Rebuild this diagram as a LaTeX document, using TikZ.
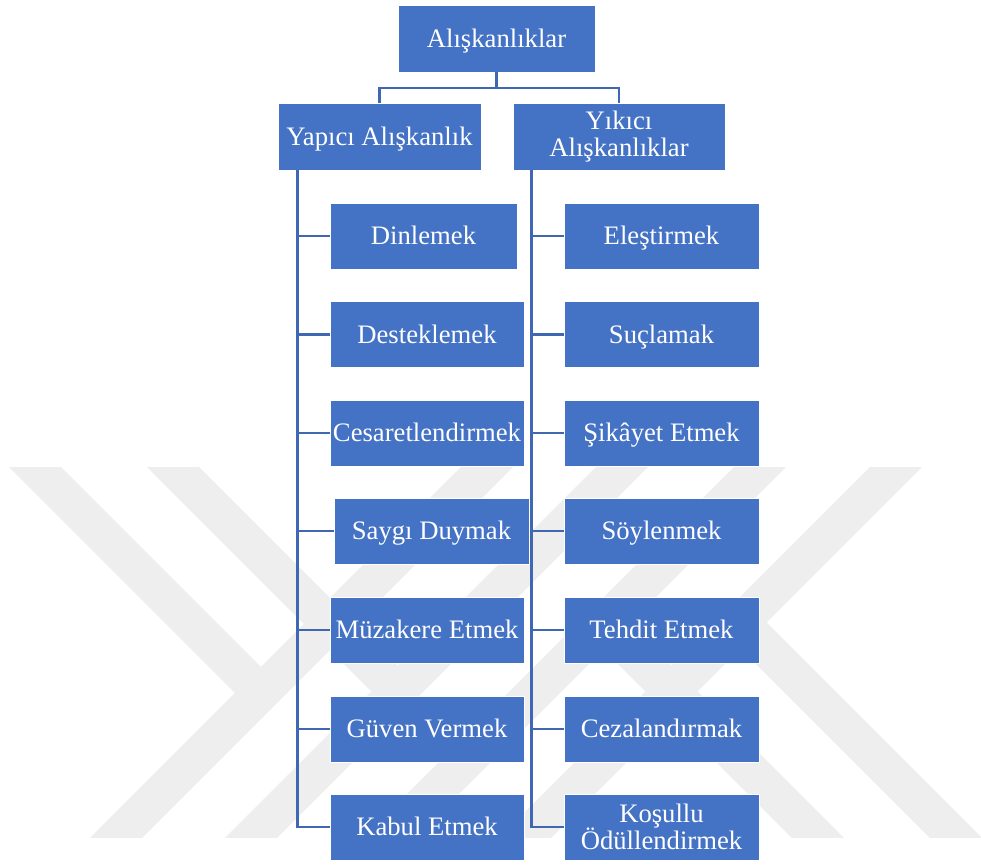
\documentclass[tikz,border=0pt]{standalone}
\usepackage{fontspec}
\setmainfont{Liberation Serif}
\definecolor{boxblue}{HTML}{4472C4}
\definecolor{linkblue}{HTML}{4068B2}
\definecolor{markgray}{HTML}{EEEEEE}

\begin{document}
\begin{tikzpicture}[x=0.75pt,y=-0.75pt]
\tikzstyle{every node}+=[inner sep=0pt]
\tikzstyle{box}=[draw=white, line width=0.6pt, fill=boxblue, text=white, align=center, minimum height=49.5pt, font=\fontsize{20}{20.5}\selectfont]
\tikzstyle{solo}=[box, text height=13.3pt, text depth=0pt]
\tikzstyle{link}=[draw=linkblue, line width=2pt]
\tikzstyle{stripe}=[draw=markgray, line width=27.6pt]
\useasboundingbox (0,0) rectangle (981,864);
\begin{scope}
\clip (0,467) rectangle (981,837);
\draw [stripe] (87,867) -- (517,437);
\draw [stripe] (222,867) -- (652,437);
\draw [stripe] (360,867) -- (790,437);
\draw [stripe] (496,867) -- (926,437);
\draw [stripe] (5,437) -- (261,693);
\draw [stripe] (143,437) -- (397.5,691.5);
\draw [stripe] (603.5,623.5) -- (847,867);
\draw [stripe] (740.5,622.5) -- (985,867);
\end{scope}
\node [solo, minimum width=147.75pt, minimum height=50.25pt] (alis) at (496.5,38.5) {Alışkanlıklar};
\node [solo, minimum width=152.25pt, minimum height=50.25pt] (yapici) at (379.5,136.5) {Yapıcı Alışkanlık};
\node [box, minimum width=159pt, minimum height=50.25pt] (yikici) at (619,136.5) {Yıkıcı\\Alışkanlıklar};
\node [solo, minimum width=140.25pt] (y1) at (423.5,236) {Dinlemek};
\node [solo, minimum width=145.5pt] (y2) at (427,334.5) {Desteklemek};
\node [solo, minimum width=145.5pt] (y3) at (427,433) {Cesaretlendirmek};
\node [solo, minimum width=146.25pt] (y4) at (431.5,531) {Saygı Duymak};
\node [solo, minimum width=145.5pt] (y5) at (427,630) {Müzakere Etmek};
\node [solo, minimum width=145.5pt] (y6) at (427,729) {Güven Vermek};
\node [solo, minimum width=145.5pt] (y7) at (427,827) {Kabul Etmek};
\node [solo, minimum width=146.25pt] (k1) at (661.5,236) {Eleştirmek};
\node [solo, minimum width=146.25pt] (k2) at (661.5,334.5) {Suçlamak};
\node [solo, minimum width=146.25pt] (k3) at (661.5,433) {Şikâyet Etmek};
\node [solo, minimum width=146.25pt] (k4) at (661.5,531) {Söylenmek};
\node [solo, minimum width=146.25pt] (k5) at (661.5,630) {Tehdit Etmek};
\node [solo, minimum width=146.25pt] (k6) at (661.5,729) {Cezalandırmak};
\node [box, minimum width=146.25pt] (k7) at (661.5,827) {Koşullu\\Ödüllendirmek};
\coordinate (hub) at (alis.south |- 0,88);
\draw [link] (alis.south) -- (hub);
\draw [link] (hub) -| (yapici.north);
\draw [link] (hub) -| (yikici.north);
\coordinate (lspine) at ([xshift=15pt]yapici.south west);
\coordinate (rspine) at ([xshift=14.25pt]yikici.south west);
\foreach \n in {y1,y2,y3,y4,y5,y6,y7}
  \draw [link] (lspine) |- (\n.west);
\foreach \n in {k1,k2,k3,k4,k5,k6,k7}
  \draw [link] (rspine) |- (\n.west);
\end{tikzpicture}
\end{document}
